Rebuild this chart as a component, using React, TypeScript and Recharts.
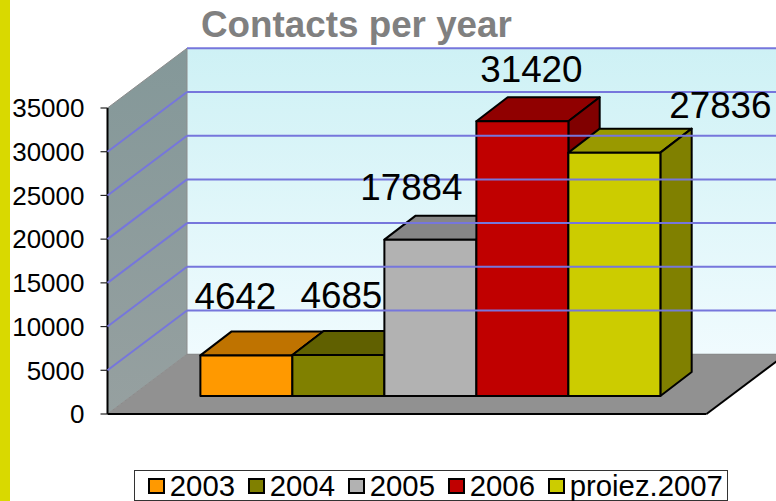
import { BarChart, Bar, XAxis, YAxis, Legend, LabelList, ReferenceArea, ReferenceLine } from 'recharts';

const seriesNames = ['2003', '2004', '2005', '2006', 'proiez.2007'];
const seriesValues = [4642, 4685, 17884, 31420, 27836];
const yTicks = [0, 5000, 10000, 15000, 20000, 25000, 30000, 35000];

const frontColors = ['#FF9900', '#808000', '#B2B2B2', '#C00000', '#CCCC00'];
const topColors = ['#BF7300', '#606000', '#868686', '#900000', '#999900'];
const sideColors = ['#804D00', '#404000', '#595959', '#800000', '#808000'];

// hand placed data labels, relative to the top centre of each bar
const labelShift = [
  { dx: -11, dy: -46 },
  { dx: 3, dy: -47 },
  { dx: -19, dy: -40 },
  { dx: 9, dy: -39 },
  { dx: 106, dy: -35 },
];

const chartData = [
  seriesNames.reduce<Record<string, string | number>>(
    (row, name, i) => {
      row[name] = seriesValues[i];
      return row;
    },
    { name: 'Contacts' }
  ),
];

// fake 3D projection
const WALL_DX = 79.5;
const WALL_DY = 59.75;
const BAR_SHIFT_X = 24;
const BAR_SHIFT_Y = 18;
const BAR_DX = 31.3;
const BAR_DY = 24;
const TICK_SIZE = 7;

const poly = (pts: number[][]) => pts.map((p) => p.join(',')).join(' ');

function Walls({ x, y, width, height }: any) {
  const right = x + width;
  const bottom = y + height;
  return (
    <g>
      <defs>
        <linearGradient id="backWall" x1="0" y1="0" x2="0" y2="1">
          <stop offset="0" stopColor="#CEF1F5" />
          <stop offset="1" stopColor="#F0FBFE" />
        </linearGradient>
        <linearGradient id="leftWall" x1="0" y1="0" x2="0" y2="1">
          <stop offset="0" stopColor="#849899" />
          <stop offset="1" stopColor="#96A0A0" />
        </linearGradient>
      </defs>
      <polygon
        points={poly([[x, y], [x + WALL_DX, y - WALL_DY], [x + WALL_DX, bottom - WALL_DY], [x, bottom]])}
        fill="url(#leftWall)"
      />
      <polygon
        points={poly([[x + WALL_DX, y - WALL_DY], [right + WALL_DX, y - WALL_DY], [right + WALL_DX, bottom - WALL_DY], [x + WALL_DX, bottom - WALL_DY]])}
        fill="url(#backWall)"
      />
      <polygon
        points={poly([[x, bottom], [right, bottom], [right + WALL_DX, bottom - WALL_DY], [x + WALL_DX, bottom - WALL_DY]])}
        fill="#919191"
      />
      <line x1={x} y1={y} x2={x + WALL_DX} y2={y - WALL_DY} stroke="#8C8C8C" strokeWidth={1} />
      <line x1={x} y1={bottom} x2={x + WALL_DX} y2={bottom - WALL_DY} stroke="#8C8C8C" strokeWidth={1} />
      <line x1={x + WALL_DX} y1={bottom - WALL_DY} x2={right + WALL_DX} y2={bottom - WALL_DY} stroke="#808080" strokeWidth={1} />
      <line x1={x + WALL_DX} y1={y - WALL_DY} x2={x + WALL_DX} y2={bottom - WALL_DY} stroke="#8C8C8C" strokeWidth={1} />
      {/* axis lines, the front edges of the box */}
      <line x1={right} y1={bottom} x2={right + WALL_DX} y2={bottom - WALL_DY} stroke="#000" strokeWidth={2} />
      <line x1={x} y1={y} x2={x} y2={bottom} stroke="#000" strokeWidth={2} />
      <line x1={x} y1={bottom} x2={right} y2={bottom} stroke="#000" strokeWidth={2} />
    </g>
  );
}

function GridLine({ x1, y1, x2, y2, value }: any) {
  const backY = y1 - WALL_DY;
  return (
    <g fill="none" stroke="#7676DC" strokeWidth={2}>
      <line x1={x1 - TICK_SIZE} y1={y1} x2={x1} y2={y1} stroke="#222" strokeWidth={1.2} />
      {value > 0 && value < 35000 && <line x1={x1} y1={y1} x2={x1 + WALL_DX} y2={backY} />}
      {value > 0 && <line x1={x1 + WALL_DX} y1={backY} x2={x2 + WALL_DX} y2={y2 - WALL_DY} />}
    </g>
  );
}

function Bar3D({ x, y, width, height, index }: any) {
  const left = x + BAR_SHIFT_X;
  const top = y - BAR_SHIFT_Y;
  const right = left + width;
  const bottom = top + height;
  return (
    <g stroke="#000" strokeWidth={2} strokeLinejoin="round">
      <polygon
        points={poly([[left, top], [left + BAR_DX, top - BAR_DY], [right + BAR_DX, top - BAR_DY], [right, top]])}
        fill={topColors[index]}
      />
      <polygon
        points={poly([[right, top], [right + BAR_DX, top - BAR_DY], [right + BAR_DX, bottom - BAR_DY], [right, bottom]])}
        fill={sideColors[index]}
      />
      <rect x={left} y={top} width={width} height={height} fill={frontColors[index]} />
    </g>
  );
}

function BarValue({ x, y, width, value, index }: any) {
  const shift = labelShift[index];
  return (
    <text
      x={x + BAR_SHIFT_X + width / 2 + shift.dx}
      y={y - BAR_SHIFT_Y + shift.dy}
      textAnchor="middle"
      fontSize={36.8}
      fontFamily="Liberation Sans"
      fill="#000"
    >
      {value}
    </text>
  );
}

function ChartLegend() {
  return (
    <div
      style={{
        display: 'flex',
        alignItems: 'center',
        boxSizing: 'border-box',
        width: 594,
        height: 31,
        paddingLeft: 13,
        background: '#fff',
        border: '1px solid #333',
        fontFamily: 'Liberation Sans',
        fontSize: 29.3,
        lineHeight: '30px',
        color: '#000',
      }}
    >
      {seriesNames.map((name, i) => (
        <span key={name} style={{ display: 'flex', alignItems: 'center', marginRight: 13 }}>
          <span
            style={{
              display: 'inline-block',
              boxSizing: 'border-box',
              width: 17,
              height: 16,
              marginRight: 4.8,
              background: frontColors[i],
              border: '2px solid #000',
            }}
          />
          {name}
        </span>
      ))}
    </div>
  );
}

export default function App() {
  return (
    <div style={{ position: 'absolute', left: 0, top: 0, width: 776, height: 501, overflow: 'hidden', background: '#fff' }}>
      <div style={{ position: 'absolute', left: 0, top: 0, width: 10, height: 501, background: '#D9D900' }} />
      <BarChart
        width={776}
        height={501}
        data={chartData}
        barCategoryGap="11.5%"
        barGap={0}
        margin={{ top: 108, right: 69.5, bottom: 55, left: 0 }}
        style={{ position: 'absolute', left: 0, top: 0 }}
      >
        <text x={201} y={37} fontSize={36.8} fontWeight="bold" fontFamily="Liberation Sans" fill="#808080">
          Contacts per year
        </text>
        <ReferenceArea y1={0} y2={35000} shape={<Walls />} ifOverflow="visible" />
        {yTicks.map((v) => (
          <ReferenceLine key={v} y={v} ifOverflow="visible" shape={(p: any) => <GridLine {...p} value={v} />} />
        ))}
        <XAxis dataKey="name" tick={false} height={1} axisLine={false} tickLine={false} />
        <YAxis
          width={107.5}
          domain={[0, 35000]}
          ticks={yTicks}
          interval={0}
          tickSize={TICK_SIZE}
          tickMargin={16}
          axisLine={false}
          tickLine={false}
          tick={{ fontSize: 26, fontFamily: 'Liberation Sans', fill: '#000' }}
        />
        <Legend content={<ChartLegend />} wrapperStyle={{ left: 134, top: 470, width: 594, bottom: 'auto' }} />
        {seriesNames.map((name, i) => (
          <Bar
            key={name}
            dataKey={name}
            fill={frontColors[i]}
            isAnimationActive={false}
            shape={(p: any) => <Bar3D {...p} index={i} />}
          >
            <LabelList dataKey={name} content={(p: any) => <BarValue {...p} index={i} />} />
          </Bar>
        ))}
      </BarChart>
    </div>
  );
}
